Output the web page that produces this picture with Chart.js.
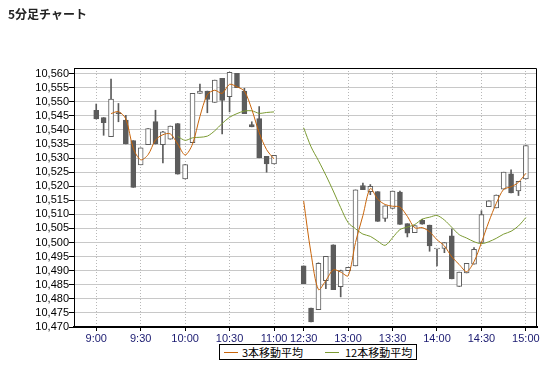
<!DOCTYPE html>
<html>
<head>
<meta charset="utf-8">
<script src="https://cdn.jsdelivr.net/npm/chart.js@4.4.1/dist/chart.umd.min.js"></script>
<style>
  body { margin: 0; background: #fff; }
  #wrap { position: relative; width: 558px; height: 365px; }
  #title { position: absolute; left: 8px; top: 6px; font: bold 12px 'Noto Sans CJK JP', sans-serif; color: #222; line-height: 16px; }
  #legend { position: absolute; left: 219px; top: 344px; width: 196px; height: 14px; border: 1px solid #000; background: #fff;
            font: 11px 'Noto Sans CJK JP', sans-serif; line-height: 14px; color: #000; }
  #legend .ln { position: absolute; top: 7px; width: 14px; height: 0; border-top: 1px solid; }
  #legend .tx { position: absolute; top: 0; white-space: nowrap; }
</style>
</head>
<body>
<div id="wrap">
  <canvas id="chart" width="558" height="365"></canvas>
  <div id="title">5分足チャート</div>
  <div id="legend">
    <span class="ln" style="left:4px; border-color:#c8640a"></span><span class="tx" style="left:22px">3本移動平均</span>
    <span class="ln" style="left:105px; border-color:#7b9a32"></span><span class="tx" style="left:125px">12本移動平均</span>
  </div>
</div>
<script>
// 5-minute bars, '' = lunch break slots
const times = [
  '9:00', '9:05', '9:10', '9:15', '9:20', '9:25', '9:30', '9:35', '9:40', '9:45',
  '9:50', '9:55', '10:00', '10:05', '10:10', '10:15', '10:20', '10:25', '10:30', '10:35',
  '10:40', '10:45', '10:50', '10:55', '11:00', '', '', '', '12:30', '12:35',
  '12:40', '12:45', '12:50', '12:55', '13:00', '13:05', '13:10', '13:15', '13:20', '13:25',
  '13:30', '13:35', '13:40', '13:45', '13:50', '13:55', '14:00', '14:05', '14:10', '14:15',
  '14:20', '14:25', '14:30', '14:35', '14:40', '14:45', '14:50', '14:55', '15:00'
];

const opens = [
  10547.0, 10544.4, 10537.6, 10546.2, 10543.5, 10536.2, 10527.6, 10534.8, 10543.0, 10534.8,
  10536.7, 10542.3, 10522.6, 10535.5, 10553.0, 10553.8, 10549.8, 10558.3, 10551.8, 10560.1,
  10553.8, 10541.9, 10544.0, 10530.6, 10527.9, null, null, null, 10491.7, 10476.7,
  10476.2, 10486.5, 10499.2, 10484.3, 10490.0, 10491.7, 10520.2, 10518.1, 10518.1, 10508.6,
  10512.1, 10517.9, 10506.7, 10503.5, 10507.9, 10506.2, 10497.7, 10497.9, 10502.4, 10484.4,
  10489.2, 10492.3, 10500.0, 10512.7, 10512.3, 10519.0, 10524.4, 10518.3, 10522.6
];
const highs = [
  10549.2, 10544.4, 10558.1, 10549.4, 10545.2, 10536.2, 10533.6, 10540.5, 10547.0, 10539.5,
  10541.4, 10542.3, 10527.7, 10553.0, 10556.3, 10553.8, 10557.7, 10558.3, 10560.5, 10560.1,
  10554.8, 10542.9, 10548.3, 10530.6, 10531.0, null, null, null, 10491.7, 10476.7,
  10492.8, 10495.1, 10499.2, 10490.2, 10491.2, 10518.7, 10521.1, 10520.6, 10518.1, 10513.0,
  10518.3, 10518.3, 10506.7, 10506.0, 10508.3, 10506.2, 10497.7, 10500.0, 10504.8, 10489.5,
  10492.6, 10498.2, 10511.3, 10514.8, 10516.9, 10525.0, 10525.8, 10521.7, 10534.4
];
const lows = [
  10543.9, 10538.1, 10537.6, 10542.9, 10535.0, 10519.6, 10527.6, 10534.8, 10535.0, 10528.3,
  10536.7, 10524.3, 10522.6, 10535.5, 10553.0, 10546.1, 10549.8, 10538.6, 10546.4, 10555.0,
  10545.8, 10541.1, 10530.1, 10525.0, 10527.9, null, null, null, 10485.4, 10471.8,
  10476.2, 10483.6, 10483.3, 10480.7, 10490.0, 10491.7, 10518.8, 10517.0, 10507.5, 10507.5,
  10512.1, 10506.4, 10502.0, 10503.5, 10506.5, 10496.9, 10491.7, 10496.4, 10487.1, 10484.4,
  10489.2, 10492.3, 10500.0, 10512.7, 10512.3, 10519.0, 10517.6, 10516.7, 10522.6
];
const closes = [
  10543.9, 10542.6, 10551.0, 10545.8, 10535.0, 10519.6, 10533.6, 10540.5, 10535.0, 10539.3,
  10541.4, 10524.3, 10527.7, 10553.0, 10553.8, 10550.8, 10557.7, 10550.5, 10560.5, 10555.0,
  10545.8, 10541.1, 10530.1, 10527.9, 10531.0, null, null, null, 10485.4, 10471.8,
  10492.6, 10495.1, 10483.3, 10490.0, 10491.2, 10518.7, 10518.8, 10520.0, 10507.5, 10513.0,
  10518.3, 10506.4, 10503.3, 10506.0, 10506.5, 10498.8, 10497.7, 10500.0, 10487.1, 10489.5,
  10492.6, 10497.6, 10509.9, 10514.8, 10516.9, 10525.0, 10517.6, 10521.7, 10534.4
];
const ma3 = [
  null, null, 10545.8, 10546.5, 10543.9, 10533.5, 10529.4, 10531.2, 10536.4, 10538.3,
  10538.6, 10535.0, 10531.1, 10535.0, 10544.8, 10552.5, 10554.1, 10553.0, 10556.2, 10555.3,
  10553.8, 10547.3, 10539.0, 10533.0, 10529.7, null, null, null, 10514.8, 10496.1,
  10483.3, 10486.5, 10490.3, 10489.5, 10488.2, 10500.0, 10509.6, 10519.2, 10515.4, 10513.5,
  10512.9, 10512.6, 10509.3, 10505.2, 10505.3, 10503.8, 10501.0, 10498.8, 10494.9, 10492.2,
  10489.7, 10493.2, 10500.0, 10507.4, 10513.9, 10518.9, 10519.8, 10521.4, 10524.6
];
const ma12 = [
  null, null, null, null, null, null, null, null, null, null,
  null, 10537.7, 10536.3, 10537.2, 10537.4, 10537.8, 10539.7, 10542.3, 10544.5, 10545.8,
  10546.7, 10546.8, 10545.9, 10546.2, 10546.4, null, null, null, 10540.8, 10534.0,
  10529.1, 10523.9, 10518.3, 10512.4, 10507.1, 10504.9, 10503.0, 10502.2, 10500.5, 10499.0,
  10501.7, 10504.6, 10505.5, 10506.4, 10508.3, 10509.0, 10509.6, 10508.0, 10505.4, 10502.8,
  10501.6, 10500.3, 10499.6, 10500.3, 10501.5, 10503.0, 10504.0, 10505.9, 10508.9
];

const candleColor = '#5c5c5c';
const slots = times.map((t, i) => i);
const bars = slots.filter(i => opens[i] !== null);

// top + right edge of the plot frame
const framePlugin = {
  id: 'frame',
  afterDraw(chart) {
    const { ctx, chartArea: a } = chart;
    ctx.save();
    ctx.strokeStyle = '#000';
    ctx.lineWidth = 1;
    ctx.beginPath();
    ctx.moveTo(a.left, a.top + 0.5);
    ctx.lineTo(a.right - 0.5, a.top + 0.5);
    ctx.lineTo(a.right - 0.5, a.bottom);
    ctx.stroke();
    ctx.restore();
  }
};

Chart.defaults.font.family = "'Liberation Sans', Arial, sans-serif";
Chart.defaults.font.size = 11;

new Chart(document.getElementById('chart'), {
  type: 'bar',
  data: {
    datasets: [
      {
        type: 'line',
        label: '3本移動平均',
        data: slots.map(i => ({ x: i, y: ma3[i] })),
        borderColor: '#c8640a',
        borderWidth: 1,
        pointRadius: 0,
        tension: 0.3,
        order: 0
      },
      {
        type: 'line',
        label: '12本移動平均',
        data: slots.map(i => ({ x: i, y: ma12[i] })),
        borderColor: '#7b9a32',
        borderWidth: 1,
        pointRadius: 0,
        tension: 0.3,
        order: 1
      },
      {
        label: 'body',
        data: bars.map(i => ({ x: i, y: [opens[i], closes[i]] })),
        backgroundColor: ctx => (ctx.raw && ctx.raw.y[1] < ctx.raw.y[0]) ? candleColor : '#ffffff',
        borderColor: candleColor,
        borderWidth: 1,
        borderSkipped: false,
        barThickness: 5,
        minBarLength: 1,
        grouped: false,
        order: 2
      },
      {
        label: 'wick',
        data: bars.map(i => ({ x: i, y: [lows[i], highs[i]] })),
        backgroundColor: candleColor,
        barThickness: 1,
        grouped: false,
        order: 3
      }
    ]
  },
  options: {
    responsive: false,
    animation: false,
    layout: { padding: { top: 68, right: 21, bottom: 0, left: 0 } },
    plugins: {
      legend: { display: false },
      tooltip: { enabled: false }
    },
    scales: {
      x: {
        type: 'linear',
        min: -3,
        max: 59.5,
        offset: false,
        afterBuildTicks: scale => {
          scale.ticks = slots.filter(i => /:(00|30)$/.test(times[i])).map(v => ({ value: v }));
        },
        afterFit: scale => { scale.height = 38; },
        grid: { color: '#b8b8b8', offset: false, tickLength: 4, tickColor: '#000' },
        border: { display: true, color: '#000', width: 2, dash: [1, 2] },
        ticks: {
          autoSkip: false,
          maxRotation: 0,
          padding: 1,
          color: '#1a1a70',
          callback: v => times[v]
        }
      },
      y: {
        min: 10470,
        max: 10562,
        afterFit: scale => { scale.width = 74; },
        grid: { color: '#c8c8c8', tickLength: 5, tickColor: '#000' },
        border: { display: true, color: '#000', width: 1 },
        ticks: {
          stepSize: 5,
          includeBounds: false,
          autoSkip: false,
          padding: 0,
          color: '#000',
          callback: v => v.toLocaleString('en-US')
        }
      }
    }
  },
  plugins: [framePlugin]
});
</script>
</body>
</html>
